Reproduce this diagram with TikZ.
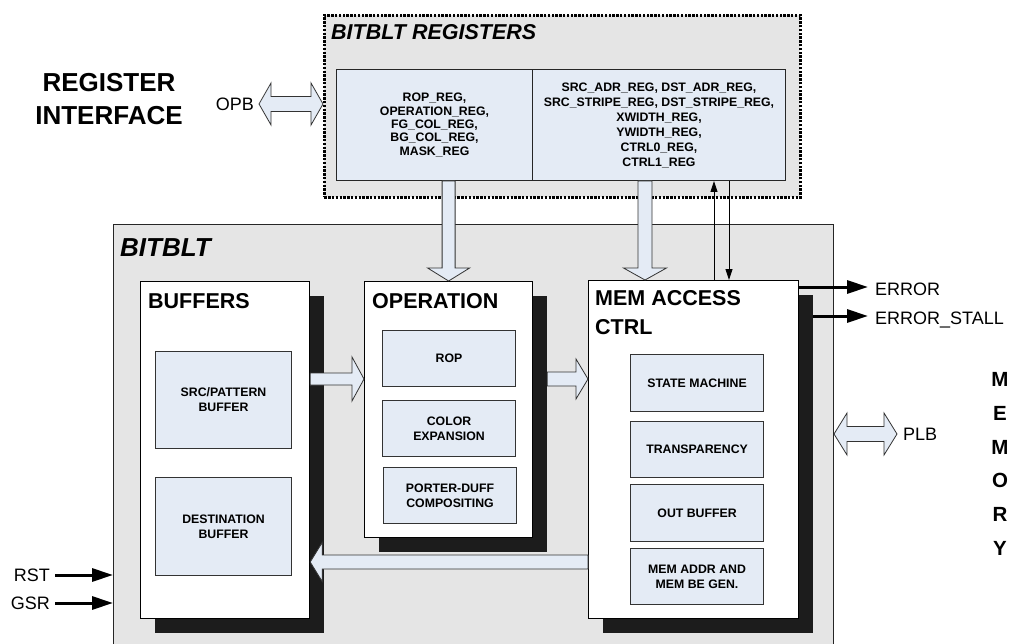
\documentclass[tikz,border=0pt]{standalone}
\usepackage{fontspec}
\setmainfont{Liberation Sans}
\usetikzlibrary{calc,arrows.meta,shadows}
\definecolor{bggray}{HTML}{E5E5E5}
\definecolor{lblue}{HTML}{E4EBF5}
\definecolor{shadowc}{HTML}{1C1C1C}
\newcommand\fatarrow[5]{%
  \coordinate (faH) at ($(#2)!#5!(#1)$);
  \draw[fatarr] ($(#1)!#3!90:(#2)$) -- ($(faH)!#3!-90:(#1)$) -- ($(faH)!#4!-90:(#1)$) -- (#2) -- ($(faH)!#4!90:(#1)$) -- ($(faH)!#3!90:(#1)$) -- ($(#1)!#3!-90:(#2)$) -- cycle;}
\newcommand\fatdarrow[5]{%
  \coordinate (faH) at ($(#2)!#5!(#1)$);
  \coordinate (faT) at ($(#1)!#5!(#2)$);
  \draw[fatarr] (#1) -- ($(faT)!#4!90:(#2)$) -- ($(faT)!#3!90:(#2)$) -- ($(faH)!#3!-90:(#1)$) -- ($(faH)!#4!-90:(#1)$) -- (#2) -- ($(faH)!#4!90:(#1)$) -- ($(faH)!#3!90:(#1)$) -- ($(faT)!#3!-90:(#2)$) -- ($(faT)!#4!-90:(#2)$) -- cycle;}
\tikzset{
  panel/.style={draw=black!85, line width=1pt, fill=bggray, anchor=north west, inner sep=0pt},
  regpanel/.style={draw=black, line width=2.6pt, dash pattern=on 2.4pt off 1.4pt, fill=bggray, anchor=north west, inner sep=0pt},
  regbox/.style={draw=black!85, line width=1pt, fill=lblue, anchor=north west, inner sep=0pt, align=center, font=\fontsize{12.3}{13.4}\selectfont\bfseries},
  blockbox/.style={draw=black, line width=1.2pt, fill=white, anchor=north west, inner sep=0pt,
    drop shadow={shadow xshift=14pt, shadow yshift=-14pt, fill=shadowc, opacity=1}},
  subbox/.style={draw=black!80, line width=1.1pt, fill=lblue, anchor=north west, inner sep=0pt, align=center,
    font=\fontsize{12.3}{15}\selectfont\bfseries},
  ttl/.style={anchor=base west, inner sep=0pt, font=\fontsize{21.5}{29}\selectfont\bfseries},
  lbl/.style={inner sep=0pt, text height=13pt, text depth=0pt, font=\fontsize{18}{20}\selectfont},
  fatarr/.style={draw=black!80, line width=0.8pt, fill=lblue, line join=miter},
  sig/.style={line width=3pt, -{Triangle[length=21pt,width=13pt]}},
  thinarr/.style={line width=0.9pt, -{Triangle[length=11pt,width=7pt]}},
}
\begin{document}
\begin{tikzpicture}[x=1pt,y=-1pt]
\useasboundingbox (0,0) rectangle (1019,644);
\clip (0,0) rectangle (1019,644);
% panels
\node[panel, minimum width=720pt, minimum height=430pt] (bitblt) at (113,224) {};
\node[ttl, font=\fontsize{26}{30}\selectfont\bfseries\itshape] (bitbltt) at (120,256) {BITBLT};
\node[regpanel, minimum width=476pt, minimum height=182pt] (regs) at (323,14) {};
\node[ttl, font=\fontsize{21.5}{26}\selectfont\bfseries\itshape] (regst) at (331,39.5) {BITBLT REGISTERS};
\node[regbox, minimum width=196pt, minimum height=111pt] (regL) at (336,69)
  {ROP\_REG,\\OPERATION\_REG,\\FG\_COL\_REG,\\BG\_COL\_REG,\\MASK\_REG};
\node[regbox, minimum width=253pt, minimum height=111pt, font=\fontsize{12.3}{15}\selectfont\bfseries] (regR) at (532,69)
  {SRC\_ADR\_REG, DST\_ADR\_REG,\\SRC\_STRIPE\_REG, DST\_STRIPE\_REG,\\XWIDTH\_REG,\\YWIDTH\_REG,\\CTRL0\_REG,\\CTRL1\_REG};
% register interface label
\node[anchor=base, inner sep=0pt, font=\fontsize{26}{30}\selectfont\bfseries] (ri1) at (109,91.5) {REGISTER};
\node[anchor=base, inner sep=0pt, font=\fontsize{26}{30}\selectfont\bfseries] (ri2) at (109,124.5) {INTERFACE};
% blocks
\node[blockbox, minimum width=169pt, minimum height=337pt] (buf) at (140,281) {};
\node[ttl] (buft) at (148,308) {BUFFERS};
\node[subbox, minimum width=136pt, minimum height=97pt] (srcbuf) at (155,351) {SRC/PATTERN\\BUFFER};
\node[subbox, minimum width=136pt, minimum height=98pt] (dstbuf) at (155,477) {DESTINATION\\BUFFER};
\node[blockbox, minimum width=168pt, minimum height=256pt] (op) at (364,281) {};
\node[ttl] (opt) at (372,308) {OPERATION};
\node[subbox, minimum width=133pt, minimum height=56pt] (rop) at (382,330) {ROP};
\node[subbox, minimum width=133pt, minimum height=56pt] (colexp) at (382,400) {COLOR\\EXPANSION};
\node[subbox, minimum width=133pt, minimum height=56pt] (porter) at (383,467) {PORTER-DUFF\\COMPOSITING};
\node[blockbox, minimum width=210pt, minimum height=338pt] (mem) at (588,280) {};
\node[ttl, anchor=north west, align=left, text depth=0pt] (memt) at (595,290) {MEM ACCESS\\CTRL};
\node[subbox, minimum width=133pt, minimum height=57pt] (sm) at (630,354) {STATE MACHINE};
\node[subbox, minimum width=133pt, minimum height=56pt] (tr) at (630,421) {TRANSPARENCY};
\node[subbox, minimum width=133pt, minimum height=57pt] (ob) at (630,484) {OUT BUFFER};
\node[subbox, minimum width=133pt, minimum height=56pt] (ma) at (630,548) {MEM ADDR AND\\MEM BE GEN.};
% memory label
\node[inner sep=0pt, align=center, font=\fontsize{20.5}{33.8}\selectfont\bfseries] (memory) at (1000,464) {M\\E\\M\\O\\R\\Y};
% fat arrows
\coordinate (a1s) at (op.north |- regL.south);
\fatarrow{a1s}{op.north}{6.5pt}{21pt}{13pt}
\coordinate (mx) at (645,0);
\coordinate (a2s) at (mx |- regR.south);
\coordinate (a2e) at (mx |- mem.north);
\fatarrow{a2s}{a2e}{7pt}{21.5pt}{12pt}
\coordinate (ay) at (0,379);
\coordinate (a3s) at (ay -| buf.east);
\coordinate (a3e) at (ay -| op.west);
\fatarrow{a3s}{a3e}{6pt}{22pt}{12pt}
\coordinate (a4s) at ([xshift=14pt]ay -| op.east);
\coordinate (a4e) at (ay -| mem.west);
\fatarrow{a4s}{a4e}{7pt}{20pt}{12pt}
\coordinate (by) at (0,562);
\coordinate (a5s) at (by -| mem.west);
\coordinate (a5e) at (by -| buf.east);
\fatarrow{a5s}{a5e}{7pt}{19.5pt}{12pt}
\coordinate (opbS) at (259,104);
\coordinate (opbE) at (opbS -| regs.west);
\fatdarrow{opbS}{opbE}{7.5pt}{21pt}{12pt}
\coordinate (plbE) at (897,434);
\coordinate (plbS) at (plbE -| bitblt.east);
\fatdarrow{plbS}{plbE}{7.5pt}{21pt}{13pt}
\node[lbl, anchor=east] (opbl) at ([xshift=-5pt]opbS) {OPB};
\node[lbl, anchor=west] (plbl) at ([xshift=6pt]plbE) {PLB};
% thin arrows
\coordinate (ux) at (714,0);
\coordinate (dx) at (729,0);
\draw[thinarr] (ux |- mem.north) -- (ux |- regR.south);
\draw[thinarr] (dx |- regR.south) -- (dx |- mem.north);
% signals
\coordinate (errE) at (868,287);
\coordinate (stE) at (868,316);
\draw[sig] (errE -| mem.east) -- (errE);
\draw[sig] ([xshift=14pt]stE -| mem.east) -- (stE);
\node[lbl, anchor=west] (errl) at ([xshift=7pt,yshift=-2pt]errE) {ERROR};
\node[lbl, anchor=west] (stl) at ([xshift=7pt,yshift=-2pt]stE) {ERROR\_STALL};
\node[lbl, anchor=east] (rstl) at (50,575) {RST};
\node[lbl, anchor=east] (gsrl) at (50,603) {GSR};
\draw[sig] ([xshift=5pt]rstl.east) -- (rstl -| bitblt.west);
\draw[sig] ([xshift=5pt]gsrl.east) -- (gsrl -| bitblt.west);
\end{tikzpicture}
\end{document}
